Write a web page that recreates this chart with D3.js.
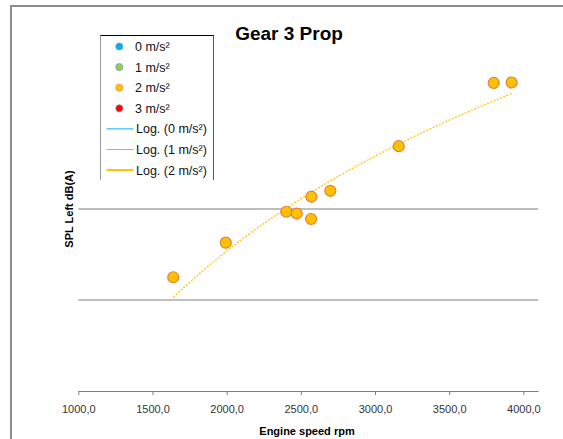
<!DOCTYPE html>
<html>
<head>
<meta charset="utf-8">
<script src="https://cdn.jsdelivr.net/npm/d3@7"></script>
<style>
  html, body { margin: 0; padding: 0; background: #fff; }
  svg { display: block; }
</style>
</head>
<body>
<svg id="chart" width="563" height="439"></svg>
<script>
// Measured engine speed (rpm) and left-side sound pressure level, 2 m/s² run
const rpm2 = [1640, 1994, 2402, 2472, 2571, 2569, 2699, 3160, 3800, 3921];
const spl2 = [72.5, 76.3, 79.7, 79.5, 81.35, 78.9, 82.0, 86.9, 93.85, 93.9];

const xTicks = [1000, 1500, 2000, 2500, 3000, 3500, 4000];
const yGrid = [70, 80];

const legendMarkers = ["0 m/s²", "1 m/s²", "2 m/s²", "3 m/s²"];
const legendLines = ["Log. (0 m/s²)", "Log. (1 m/s²)", "Log. (2 m/s²)"];
const markerColors = ["#00B0F0", "#92D050", "#FFC000", "#FF0000"];
const lineColors = ["#00B0F0", "#92D050", "#FFC000"];

const svg = d3.select("#chart");
const font = "'Liberation Sans', Arial, sans-serif";

// Outer chart frame
svg.append("rect")
  .attr("x", 11).attr("y", 6).attr("width", 600).attr("height", 500)
  .attr("fill", "#fff").attr("stroke", "#8c8c8c").attr("stroke-width", 2);

const x = d3.scaleLinear().domain([1000, 4100]).range([78.3, 538.2]);
const y = d3.scaleLinear().domain([60, 100]).range([391, 27]);

// Horizontal gridlines
svg.append("g").selectAll("line").data(yGrid).join("line")
  .attr("x1", x(1000)).attr("x2", x(4100))
  .attr("y1", d => y(d)).attr("y2", d => y(d))
  .attr("stroke", "#7f7f7f").attr("stroke-width", 1);

// X axis
const xAxis = d3.axisBottom(x)
  .tickValues(xTicks)
  .tickSize(4)
  .tickSizeOuter(0)
  .tickFormat(d => d3.format(".1f")(d).replace(".", ","));
const gx = svg.append("g").attr("transform", `translate(0,${y(60)})`).call(xAxis);
gx.select(".domain").attr("stroke", "#7f7f7f");
gx.selectAll(".tick line").attr("stroke", "#7f7f7f");
gx.selectAll(".tick text")
  .attr("dy", "0")
  .attr("y", 22)
  .attr("fill", "#333")
  .style("font-family", font).style("font-size", "11px");

// Titles
svg.append("text").attr("x", 289).attr("y", 40).attr("text-anchor", "middle")
  .style("font-family", font).style("font-weight", "bold").style("font-size", "19px")
  .text("Gear 3 Prop");
svg.append("text").attr("x", 307).attr("y", 435).attr("text-anchor", "middle")
  .style("font-family", font).style("font-weight", "bold").style("font-size", "11px")
  .text("Engine speed rpm");
svg.append("text")
  .attr("transform", "translate(73,209) rotate(-90)")
  .attr("text-anchor", "middle")
  .style("font-family", font).style("font-weight", "bold").style("font-size", "11px")
  .text("SPL Left dB(A)");

// Logarithmic trendline: least squares of SPL on ln(rpm)
const lx = rpm2.map(Math.log);
const mx = d3.mean(lx), my = d3.mean(spl2);
const slope = d3.sum(lx, (v, i) => (v - mx) * (spl2[i] - my)) / d3.sum(lx, v => (v - mx) ** 2);
const intercept = my - slope * mx;
const [xmin, xmax] = d3.extent(rpm2);
const trend = d3.range(0, 61).map(i => {
  const r = xmin + (xmax - xmin) * i / 60;
  return [r, intercept + slope * Math.log(r)];
});
svg.append("path")
  .datum(trend)
  .attr("d", d3.line().x(d => x(d[0])).y(d => y(d[1])))
  .attr("fill", "none").attr("stroke", "#FFC000").attr("stroke-width", 1.2)
  .attr("stroke-dasharray", "2,1.5");

// Data points
svg.append("g").selectAll("circle").data(rpm2).join("circle")
  .attr("cx", d => x(d)).attr("cy", (d, i) => y(spl2[i]))
  .attr("r", 5.5)
  .attr("fill", "#FFC000").attr("stroke", "#E0823A").attr("stroke-width", 1.2);

// Legend
const lg = svg.append("g");
lg.append("rect").attr("x", 100).attr("y", 35.5).attr("width", 114).attr("height", 145).attr("fill", "#fff");
lg.append("line").attr("x1", 100).attr("x2", 214).attr("y1", 35.5).attr("y2", 35.5).attr("stroke", "#000");
lg.append("line").attr("x1", 100.5).attr("x2", 100.5).attr("y1", 35.5).attr("y2", 180).attr("stroke", "#9a9a9a");
lg.append("line").attr("x1", 213.5).attr("x2", 213.5).attr("y1", 35.5).attr("y2", 180).attr("stroke", "#555");

const rowY = i => 46.5 + i * 20.6;
lg.selectAll(".mk").data(legendMarkers).join("g").attr("class", "mk")
  .each(function (d, i) {
    const g = d3.select(this);
    g.append("circle").attr("cx", 119.3).attr("cy", rowY(i)).attr("r", 3.6)
      .attr("fill", markerColors[i]).attr("stroke", i === 2 ? "#E0A040" : "#8aa0a8").attr("stroke-width", 0.8);
    g.append("text").attr("x", 135).attr("y", rowY(i) + 4.5)
      .style("font-family", font).style("font-size", "12.5px").attr("fill", "#111").text(d);
  });
lg.selectAll(".ln").data(legendLines).join("g").attr("class", "ln")
  .each(function (d, i) {
    const g = d3.select(this);
    const yy = rowY(i + 4);
    g.append("line").attr("x1", 106.5).attr("x2", 133.5).attr("y1", yy).attr("y2", yy)
      .attr("stroke", lineColors[i]).attr("stroke-width", i === 2 ? 2 : 1);
    g.append("text").attr("x", 136).attr("y", yy + 4.5)
      .style("font-family", font).style("font-size", "12.5px").attr("fill", "#111").text(d);
  });
</script>
</body>
</html>
